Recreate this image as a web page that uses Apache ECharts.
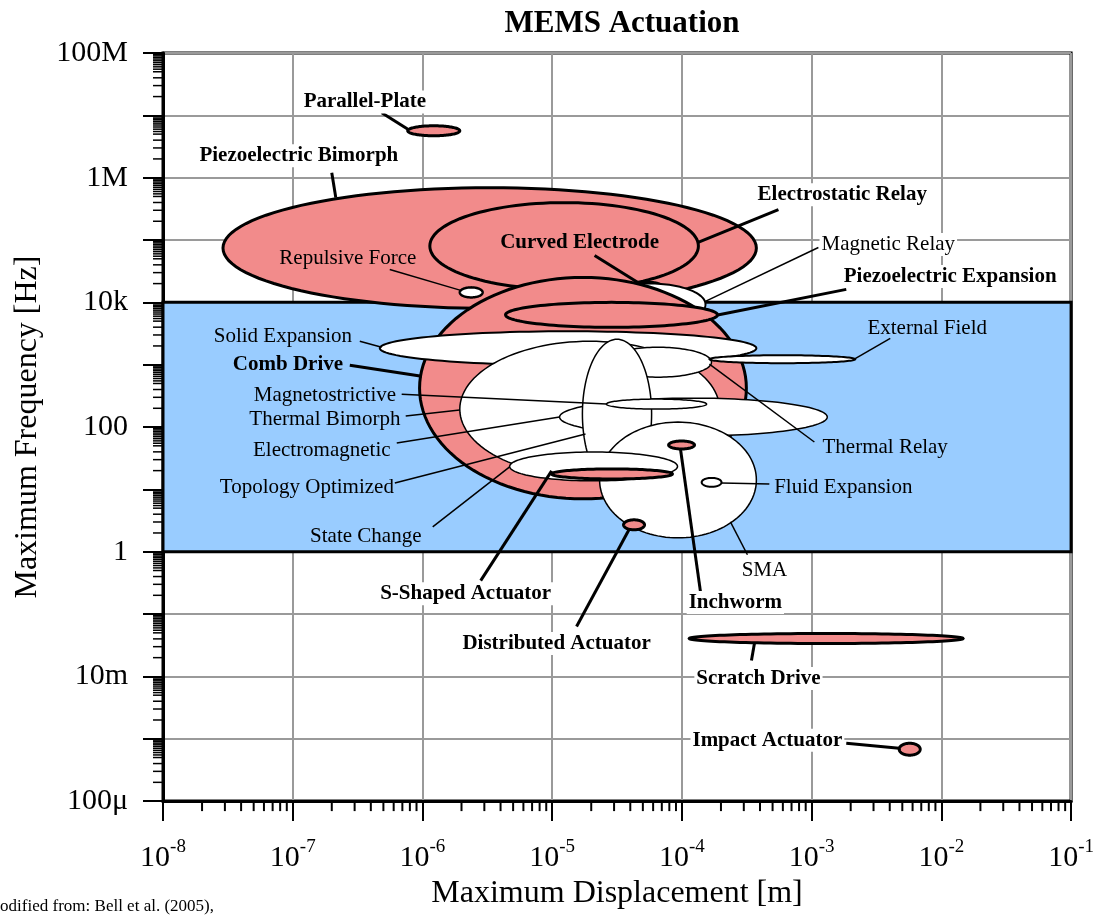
<!DOCTYPE html>
<html>
<head>
<meta charset="utf-8">
<title>MEMS Actuation</title>
<script src="https://cdn.jsdelivr.net/npm/echarts@6/dist/echarts.min.js"></script>
<style>
  html, body { margin: 0; padding: 0; background: #fff; }
  #chart { width: 1097px; height: 915px; }
</style>
</head>
<body>
<div id="chart"></div>
<script>
// Actuator families, listed in drawing order (back to front)
const actuators = [
  'Piezoelectric Bimorph', 'Electrostatic Relay', 'Curved Electrode', 'Repulsive Force',
  'Magnetic Relay', 'Comb Drive', 'Piezoelectric Expansion', 'Solid Expansion',
  'Thermal Bimorph', 'Thermal Relay', 'External Field', 'Electromagnetic',
  'Topology Optimized', 'Magnetostrictive', 'SMA', 'State Change',
  'S-Shaped Actuator', 'Inchworm', 'Fluid Expansion', 'Distributed Actuator',
  'Scratch Drive', 'Impact Actuator', 'Parallel-Plate'
];

// Maximum displacement range of each family [m]
const displacementRange = [
  [2.9e-8, 3.75e-4], [1.14e-6, 1.34e-4], [4.55e-5, 6.97e-5], [1.94e-6, 2.91e-6],
  [2.05e-5, 1.52e-4], [9.5e-7, 3.14e-4], [4.37e-6, 1.88e-4], [4.69e-7, 3.75e-4],
  [1.94e-6, 1.95e-4], [2.54e-5, 1.69e-4], [1.63e-4, 2.17e-3], [1.14e-5, 1.32e-3],
  [1.71e-5, 5.84e-5], [2.62e-5, 1.55e-4], [2.32e-5, 3.75e-4], [4.7e-6, 9.25e-5],
  [9.9e-6, 8.45e-5], [7.9e-5, 1.25e-4], [1.42e-4, 2.02e-4], [3.55e-5, 5.15e-5],
  [1.14e-4, 1.47e-2], [4.73e-3, 6.87e-3], [7.7e-7, 1.94e-6]
];

// Maximum frequency range of each family [Hz]
const frequencyRange = [
  [8.0e3, 6.9e5], [1.61e4, 3.98e5], [1.56e4, 2.09e4], [1.2e4, 1.74e4],
  [4.3e3, 2.01e4], [7.05, 2.51e4], [3.98e3, 1.0e4], [982, 3.44e3],
  [15.8, 2377], [631, 1905], [1057, 1419], [71.8, 291],
  [10.2, 2559], [194, 281], [1.67, 120], [13.7, 39.8],
  [14.7, 21.3], [44.5, 59.7], [11, 15.3], [2.25, 3.25],
  [0.0337, 0.0488], [5.45e-4, 8.47e-4], [4.7e6, 6.8e6]
];

// Families drawn filled and labelled in bold
const highlighted = new Set([
  'Piezoelectric Bimorph', 'Electrostatic Relay', 'Curved Electrode', 'Comb Drive',
  'Piezoelectric Expansion', 'S-Shaped Actuator', 'Inchworm', 'Distributed Actuator',
  'Scratch Drive', 'Impact Actuator', 'Parallel-Plate'
]);

// Band of typical operation
const bandDisplacement = [1e-8, 1e-1];
const bandFrequency = [1, 1e4];

// Axis ticks
const dispExponents = [-8, -7, -6, -5, -4, -3, -2, -1];
const freqTickExponents = [-4, -2, 0, 2, 4, 6, 8];
const freqTickText = ['100\u03bc', '10m', '1', '100', '10k', '1M', '100M'];

// Callout layout in decades: label centre, leader start, leader end
const calloutLayout = {
  'Parallel-Plate':          [[-6.444, 7.248], [-6.314, 7.040], [-6.106, 6.768]],
  'Piezoelectric Bimorph':   [[-6.953, 6.384], [-6.699, 6.080], [-6.668, 5.680]],
  'Electrostatic Relay':     [[-2.764, 5.760], [-3.256, 5.488], [-3.880, 4.960]],
  'Curved Electrode':        [[-4.789, 4.992], [-4.673, 4.752], [-4.327, 4.304]],
  'Repulsive Force':         [[-6.575, 4.736], [-6.252, 4.528], [-5.705, 4.192]],
  'Magnetic Relay':          [[-2.409, 4.960], [-2.948, 4.880], [-3.819, 4.016]],
  'Piezoelectric Expansion': [[-1.932, 4.448], [-2.733, 4.208], [-3.734, 3.792]],
  'External Field':          [[-2.109, 3.616], [-2.394, 3.424], [-2.671, 3.088]],
  'Solid Expansion':         [[-7.076, 3.488], [-6.483, 3.376], [-6.314, 3.280]],
  'Comb Drive':              [[-7.037, 3.040], [-6.560, 2.992], [-6.006, 2.816]],
  'Magnetostrictive':        [[-6.752, 2.544], [-6.160, 2.528], [-4.581, 2.368]],
  'Thermal Bimorph':         [[-6.752, 2.160], [-6.129, 2.176], [-5.713, 2.272]],
  'Electromagnetic':         [[-6.776, 1.664], [-6.198, 1.744], [-4.943, 2.160]],
  'Topology Optimized':      [[-6.891, 1.056], [-6.213, 1.104], [-4.743, 1.888]],
  'State Change':            [[-6.437, 0.272], [-5.921, 0.400], [-5.328, 1.360]],
  'Thermal Relay':           [[-2.433, 1.712], [-2.979, 1.760], [-3.788, 3.008]],
  'Fluid Expansion':         [[-2.756, 1.056], [-3.326, 1.088], [-3.695, 1.104]],
  'SMA':                     [[-3.364, -0.272], [-3.495, -0.048], [-3.626, 0.480]],
  'S-Shaped Actuator':       [[-5.667, -0.640], [-5.551, -0.464], [-5.004, 1.296]],
  'Inchworm':                [[-3.588, -0.784], [-3.857, -0.640], [-4.011, 1.648]],
  'Distributed Actuator':    [[-4.966, -1.440], [-4.812, -1.200], [-4.404, 0.368]],
  'Scratch Drive':           [[-3.410, -2.000], [-3.464, -1.744], [-3.441, -1.472]],
  'Impact Actuator':         [[-3.341, -2.992], [-2.733, -3.072], [-2.325, -3.152]]
};

// Outline widths of the unfilled shapes
const thinOutline = {
  'Repulsive Force': 2.5, 'Magnetic Relay': 2, 'Solid Expansion': 2, 'External Field': 2,
  'Fluid Expansion': 2
};
// Labels sitting on plain white paper get a white backing
const paperLabels = new Set([
  'Parallel-Plate', 'Piezoelectric Bimorph', 'Electrostatic Relay', 'Magnetic Relay',
  'Piezoelectric Expansion', 'SMA', 'S-Shaped Actuator', 'Inchworm',
  'Distributed Actuator', 'Scratch Drive', 'Impact Actuator'
]);

const SERIF = '"Liberation Serif", "Times New Roman", serif';
const PINK = '#F28B8B';
const BLUE = '#99CCFF';
const dec = e => Math.pow(10, e);

const ellipseRows = actuators.map((n, i) => [
  displacementRange[i][0], displacementRange[i][1], frequencyRange[i][0], frequencyRange[i][1]
]);

const calloutNames = Object.keys(calloutLayout);
const calloutRows = calloutNames.map(n => {
  const [p, a, b] = calloutLayout[n];
  return [dec(p[0]), dec(p[1]), dec(a[0]), dec(a[1]), dec(b[0]), dec(b[1])];
});

// minor ticks: log positions within each decade
const xMinor = [];
for (let e = -8; e < -1; e++) for (let m = 2; m <= 9; m++) xMinor.push([m * dec(e)]);
const yMinorMult = [2, 3, 4, 5, 5.5, 6, 6.5, 7, 7.5, 8, 8.5, 9, 9.5];
const yMinor = [];
for (let e = -4; e < 8; e++) for (const m of yMinorMult) yMinor.push([m * dec(e)]);

function renderEllipse(params, api) {
  const name = actuators[params.dataIndex];
  const lx0 = Math.log10(api.value(0)), lx1 = Math.log10(api.value(1));
  const ly0 = Math.log10(api.value(2)), ly1 = Math.log10(api.value(3));
  const cx = (lx0 + lx1) / 2, cy = (ly0 + ly1) / 2;
  const ax = (lx1 - lx0) / 2, ay = (ly1 - ly0) / 2;
  const pts = [];
  const N = 120;
  for (let k = 0; k < N; k++) {
    const t = (k / N) * Math.PI * 2;
    pts.push(api.coord([dec(cx + ax * Math.cos(t)), dec(cy + ay * Math.sin(t))]));
  }
  const filled = highlighted.has(name);
  return {
    type: 'polygon',
    shape: { points: pts },
    style: {
      fill: filled ? PINK : '#ffffff',
      stroke: '#000',
      lineWidth: filled ? 3 : (thinOutline[name] || 1.5)
    }
  };
}

function renderCallout(params, api) {
  const name = calloutNames[params.dataIndex];
  const bold = highlighted.has(name);
  const p = api.coord([api.value(0), api.value(1)]);
  const a = api.coord([api.value(2), api.value(3)]);
  const b = api.coord([api.value(4), api.value(5)]);
  const textStyle = {
    text: name,
    x: 0, y: 0,
    fill: '#000',
    font: (bold ? 'bold ' : '') + '21px ' + SERIF,
    align: 'center',
    verticalAlign: 'middle'
  };
  if (paperLabels.has(name)) {
    textStyle.backgroundColor = '#ffffff';
    textStyle.padding = [1, 2, 1, 2];
  }
  return {
    type: 'group',
    children: [
      { type: 'line', shape: { x1: a[0], y1: a[1], x2: b[0], y2: b[1] },
        style: { stroke: '#000', lineWidth: bold ? 3 : 1.5 } },
      // glyphs sit a touch high at middle alignment, so nudge down
      { type: 'text', x: p[0], y: p[1] + 2, style: textStyle }
    ]
  };
}

function renderBand(params, api) {
  const tl = api.coord([api.value(0), api.value(3)]);
  const br = api.coord([api.value(1), api.value(2)]);
  return {
    type: 'rect',
    shape: { x: tl[0], y: tl[1], width: br[0] - tl[0], height: br[1] - tl[1] },
    style: { fill: BLUE, stroke: '#000', lineWidth: 3 }
  };
}

function renderXMinor(params, api) {
  const p = api.coord([api.value(0), dec(-4)]);
  return { type: 'line', shape: { x1: p[0], y1: p[1], x2: p[0], y2: p[1] + 10 },
           style: { stroke: '#000', lineWidth: 2 } };
}
function renderYMinor(params, api) {
  const p = api.coord([dec(-8), api.value(0)]);
  return { type: 'line', shape: { x1: p[0] - 10, y1: p[1], x2: p[0], y2: p[1] },
           style: { stroke: '#000', lineWidth: 1.5 } };
}

const chart = echarts.init(document.getElementById('chart'), null, { renderer: 'canvas' });

chart.setOption({
  animation: false,
  backgroundColor: '#fff',
  title: {
    text: 'MEMS Actuation',
    left: 617, top: 3, textAlign: 'center',
    textStyle: { fontFamily: SERIF, fontWeight: 'bold', fontSize: 31, color: '#000' }
  },
  grid: {
    left: 163, right: 25, top: 53, bottom: 112,
    show: true, borderColor: '#000', borderWidth: 3, backgroundColor: '#fff'
  },
  xAxis: {
    type: 'log', logBase: 10, min: 1e-8, max: 1e-1, interval: 1, splitNumber: 7,
    name: 'Maximum Displacement [m]', nameLocation: 'middle', nameGap: 74,
    nameTextStyle: { fontFamily: SERIF, fontSize: 32, color: '#000' },
    axisLine: { show: true, lineStyle: { color: '#000', width: 3 } },
    axisTick: { show: true, length: 20, lineStyle: { color: '#000', width: 2 } },
    splitLine: { show: true, lineStyle: { color: '#9a9a9a', width: 2 } },
    axisLabel: {
      margin: 36,
      formatter: v => {
        const e = Math.round(Math.log10(v));
        return dispExponents.indexOf(e) >= 0 ? '{b|10}{s|' + e + '}' : '';
      },
      rich: {
        b: { fontFamily: SERIF, fontSize: 30, color: '#000', lineHeight: 36, verticalAlign: 'bottom' },
        s: { fontFamily: SERIF, fontSize: 19, color: '#000', lineHeight: 19, verticalAlign: 'top' }
      }
    }
  },
  yAxis: {
    type: 'log', logBase: 10, min: 1e-4, max: 1e8, interval: 1, splitNumber: 12,
    name: 'Maximum Frequency [Hz]', nameLocation: 'middle', nameGap: 119,
    nameTextStyle: { fontFamily: SERIF, fontSize: 32, color: '#000' },
    axisLine: { show: true, lineStyle: { color: '#000', width: 3 } },
    axisTick: { show: true, length: 20, lineStyle: { color: '#000', width: 2 } },
    splitLine: { show: true, lineStyle: { color: '#9a9a9a', width: 2 } },
    axisLabel: {
      margin: 35, fontFamily: SERIF, fontSize: 30, color: '#000',
      formatter: v => {
        const i = freqTickExponents.indexOf(Math.round(Math.log10(v)));
        return i >= 0 ? freqTickText[i] : '';
      }
    }
  },
  graphic: [{
    type: 'text', left: -15, top: 898,
    style: { text: 'Modified from: Bell et al. (2005),', font: '17px ' + SERIF, fill: '#000' }
  }],
  series: [
    {
      type: 'custom', name: 'band', renderItem: renderBand,
      encode: { x: [0, 1], y: [2, 3] },
      data: [[bandDisplacement[0], bandDisplacement[1], bandFrequency[0], bandFrequency[1]]],
      silent: true
    },
    {
      type: 'custom', name: 'actuators', renderItem: renderEllipse,
      encode: { x: [0, 1], y: [2, 3] },
      data: ellipseRows, silent: true
    },
    {
      type: 'custom', name: 'callouts', renderItem: renderCallout,
      encode: { x: [0, 2, 4], y: [1, 3, 5] },
      data: calloutRows, silent: true
    },
    {
      type: 'custom', name: 'xMinorTicks', renderItem: renderXMinor,
      encode: { x: 0 }, data: xMinor, silent: true, clip: false
    },
    {
      type: 'custom', name: 'yMinorTicks', renderItem: renderYMinor,
      encode: { y: 0 }, data: yMinor, silent: true, clip: false
    }
  ]
});
</script>
</body>
</html>
